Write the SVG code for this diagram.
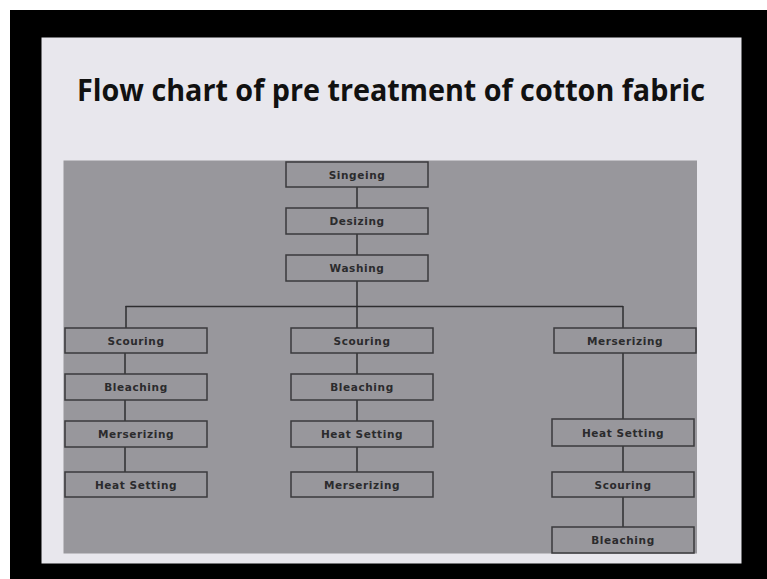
<svg xmlns="http://www.w3.org/2000/svg" width="767" height="579" viewBox="0 0 767 579">
<style>
.box rect{fill:#98979c;stroke:#3a3a3c;stroke-width:1.5}
.box text{font-family:"DejaVu Sans",sans-serif;font-weight:bold;font-size:10.5px;fill:#2b2b2d;text-anchor:middle;dominant-baseline:central;letter-spacing:0.6px}
.conn line{stroke:#2e2e30;stroke-width:1.5}
</style>
<rect x="0" y="0" width="767" height="579" fill="#ffffff"/>
<rect x="10" y="10" width="757" height="569" fill="#000000"/>
<rect x="41.5" y="37.5" width="700" height="526" fill="#e8e7ed"/>
<text x="391" y="101" font-family="'Open Sans','Noto Sans',sans-serif" font-weight="bold" font-size="30" fill="#111" text-anchor="middle" textLength="628" lengthAdjust="spacingAndGlyphs">Flow chart of pre treatment of cotton fabric</text>
<rect x="63.5" y="160.5" width="633.5" height="393" fill="#98979c"/>
<g class="conn">
<line x1="357" y1="187" x2="357" y2="208"/>
<line x1="357" y1="234" x2="357" y2="255"/>
<line x1="357" y1="281" x2="357" y2="328"/>
<line x1="125.5" y1="306.5" x2="623" y2="306.5"/>
<line x1="126" y1="306" x2="126" y2="328"/>
<line x1="623" y1="306" x2="623" y2="328"/>
<line x1="125" y1="353" x2="125" y2="374"/>
<line x1="125" y1="400" x2="125" y2="421"/>
<line x1="125" y1="447" x2="125" y2="472"/>
<line x1="357" y1="353" x2="357" y2="374"/>
<line x1="357" y1="400" x2="357" y2="421"/>
<line x1="357" y1="447" x2="357" y2="472"/>
<line x1="623" y1="353" x2="623" y2="419"/>
<line x1="623" y1="446" x2="623" y2="472"/>
<line x1="623" y1="497" x2="623" y2="527"/>
</g>
<g id="n-singeing" class="box"><rect x="286" y="162" width="142" height="25"/><text x="357" y="174.5">Singeing</text></g>
<g id="n-desizing" class="box"><rect x="286" y="208" width="142" height="26"/><text x="357" y="221">Desizing</text></g>
<g id="n-washing" class="box"><rect x="286" y="255" width="142" height="26"/><text x="357" y="268">Washing</text></g>
<g id="n-l-scouring" class="box"><rect x="65" y="328" width="142" height="25"/><text x="136" y="340.5">Scouring</text></g>
<g id="n-l-bleaching" class="box"><rect x="65" y="374" width="142" height="26"/><text x="136" y="387">Bleaching</text></g>
<g id="n-l-merserizing" class="box"><rect x="65" y="421" width="142" height="26"/><text x="136" y="434">Merserizing</text></g>
<g id="n-l-heat" class="box"><rect x="65" y="472" width="142" height="25"/><text x="136" y="484.5">Heat Setting</text></g>
<g id="n-m-scouring" class="box"><rect x="291" y="328" width="142" height="25"/><text x="362" y="340.5">Scouring</text></g>
<g id="n-m-bleaching" class="box"><rect x="291" y="374" width="142" height="26"/><text x="362" y="387">Bleaching</text></g>
<g id="n-m-heat" class="box"><rect x="291" y="421" width="142" height="26"/><text x="362" y="434">Heat Setting</text></g>
<g id="n-m-merserizing" class="box"><rect x="291" y="472" width="142" height="25"/><text x="362" y="484.5">Merserizing</text></g>
<g id="n-r-merserizing" class="box"><rect x="554" y="328" width="142" height="25"/><text x="625" y="340.5">Merserizing</text></g>
<g id="n-r-heat" class="box"><rect x="552" y="419" width="142" height="27"/><text x="623" y="432.5">Heat Setting</text></g>
<g id="n-r-scouring" class="box"><rect x="552" y="472" width="142" height="25"/><text x="623" y="484.5">Scouring</text></g>
<g id="n-r-bleaching" class="box"><rect x="552" y="527" width="142" height="26"/><text x="623" y="540">Bleaching</text></g>
</svg>
